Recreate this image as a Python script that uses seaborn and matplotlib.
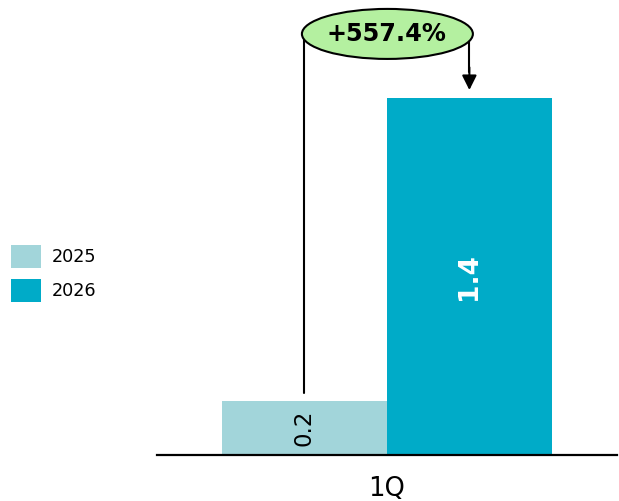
import pandas as pd
import matplotlib.pyplot as plt
import seaborn as sns
from matplotlib.patches import Ellipse, Patch

# --------------------------
# data
# --------------------------
quarters = ["1Q", "1Q"]
years = ["2025", "2026"]
values = [0.213, 1.40]
growth_label = "+557.4%"
colors = ["#a2d5da", "#00abc8"]

df = pd.DataFrame({"quarter": quarters, "year": years, "value": values})

# --------------------------
# style
# --------------------------
sns.set_theme(style="white")
plt.rcParams['font.family'] = ['DejaVu Sans']

fig = plt.figure(figsize=(6.19, 5.01), dpi=100)
ax = fig.add_axes([0.2536, 0.0918, 0.743, 0.9082])

sns.barplot(data=df, x="quarter", y="value", hue="year", palette=colors,
            width=0.717, saturation=1, linewidth=0, ax=ax, legend=False)

ax.set_xlim(-0.5, 0.5)
ax.set_ylim(0, 1.784)
for s in ["top", "right", "left"]:
    ax.spines[s].set_visible(False)
ax.spines["bottom"].set_color("black")
ax.spines["bottom"].set_linewidth(1.6)
ax.set_yticks([])
ax.set_xlabel("")
ax.set_ylabel("")
ax.tick_params(axis="x", length=0, labelsize=18.5, pad=15, colors="black")

# value labels inside bars
bars = [c.patches[0] for c in ax.containers]
for bar, v in zip(bars, values):
    cx = bar.get_x() + bar.get_width() / 2
    if v < 0.5:
        ax.text(cx, v / 2, f"{v:.1f}", rotation=90, ha="center", va="center",
                fontsize=16.5, color="black")
    else:
        ax.text(cx, v / 2, f"{v:.1f}", rotation=90, ha="center", va="center",
                fontsize=19, color="white", fontweight="bold")

# growth bracket
x0 = bars[0].get_x() + bars[0].get_width() / 2
x1 = bars[1].get_x() + bars[1].get_width() / 2
top = 1.651
ax.plot([x0, x0, x1, x1], [values[0] + 0.03, top, top, 1.50],
        color="black", lw=1.5, clip_on=False, zorder=3)
ax.annotate("", xy=(x1, values[1] + 0.031), xytext=(x1, 1.52),
            arrowprops=dict(arrowstyle="-|>", color="black", lw=1.5,
                            mutation_scale=22, shrinkA=0, shrinkB=0),
            annotation_clip=False, zorder=3)

# ellipse with growth label (pixel size -> data units)
ell = Ellipse(((x0 + x1) / 2 + 0.001, top), width=171 / 460, height=50 / 255,
              facecolor="#b4f0a0", edgecolor="black", lw=1.5,
              clip_on=False, zorder=4)
ax.add_patch(ell)
ax.text((x0 + x1) / 2, top, growth_label, ha="center", va="center",
        fontsize=17.3, fontweight="bold", color="black", zorder=5)

# legend
handles = [Patch(facecolor=c, edgecolor="none", label=y) for c, y in zip(colors, years)]
fig.legend(handles=handles, loc="upper left", bbox_to_anchor=(11 / 619, (501 - 245) / 501),
           frameon=False, fontsize=12.7, handlelength=1.7, handleheight=1.63,
           labelspacing=0.6, handletextpad=0.62, borderpad=0, borderaxespad=0,
           labelcolor="black")

fig.savefig("out.png", dpi=100)
